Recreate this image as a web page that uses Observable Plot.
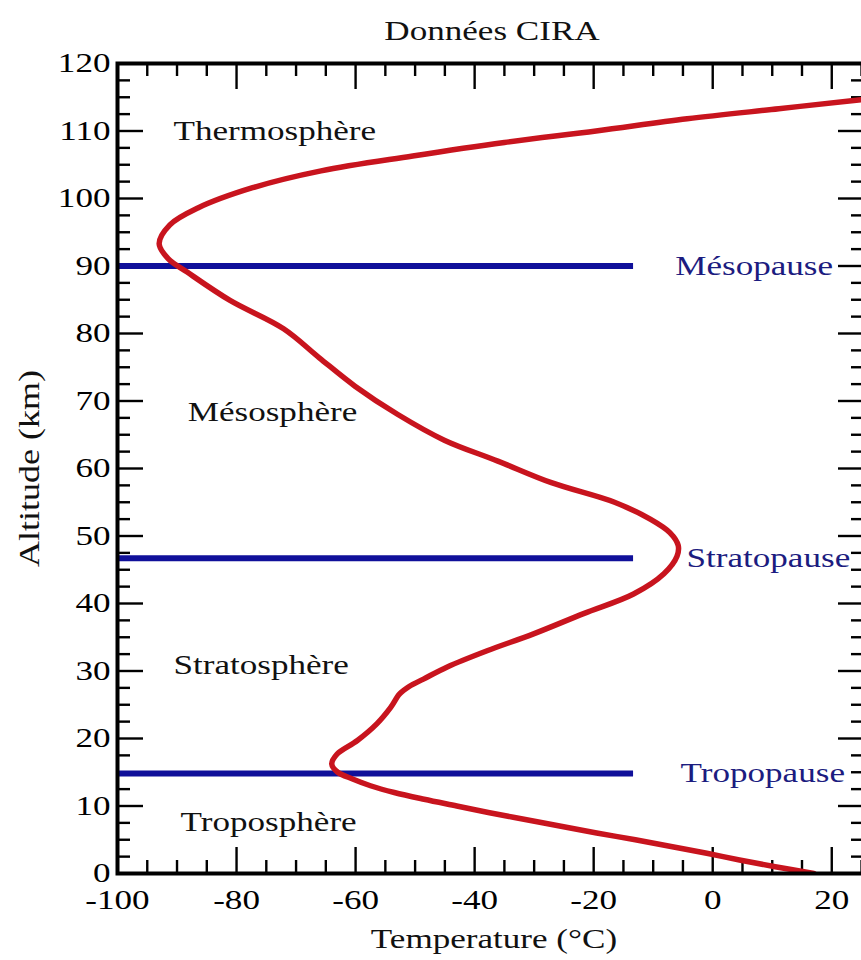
<!DOCTYPE html>
<html><head><meta charset="utf-8">
<script src="https://cdn.jsdelivr.net/npm/d3@7"></script>
<script src="https://cdn.jsdelivr.net/npm/@observablehq/plot@0.6"></script>
<style>body{margin:0;background:#fff}</style>
</head><body><div id="chart"></div>
<script>
// CIRA temperature profile (altitude km, temperature °C)
const altitude =    [0,  1,   2,   3,  4,  5,   6,    7,    8,    9,    10,  11,   12,   13,   14,   15,  16.2, 17.7, 19.7, 22.2, 24.6, 26.6, 27.7, 28.8, 30.6, 33.0, 35.5, 38.5, 41.4, 44.4, 47.0, 48.6, 50.5, 52.5, 55.0, 57.9, 61.1, 64.2, 68.0, 72.2, 76.4, 80.7, 84.9, 89.1, 91.1, 93.3, 96.1, 98.6, 101.6, 104.1, 106.3, 108.3, 110.0, 111.8, 113.3, 114.6, 115.2];
const temperature = [17, 10.5, 4.5, -1, -7, -13, -19.5,-25.5,-31.5,-37.5,-43, -48.5,-53.5,-57.5,-60.5,-63, -64, -63.1,-59.7,-56.4,-54.1,-52.6,-51.0,-48.6,-44.6,-37.9,-30.1,-21.7,-13.3,-8.2, -6.0, -5.8, -7.2, -10.5,-16.5,-27.1,-36.1,-45.1,-52.9,-60.1,-66.1,-72.1,-81.1,-88.3,-91.5,-93,  -91.2,-86.5,-77.3, -65.8, -50.4, -35.0, -19.6, -4.3,  11.1,  24.5,  31];

const pauseNames = ["Mésopause", "Stratopause", "Tropopause"];
const pauseAltitude = [90, 46.7, 14.8];
const pauseLineEnd = [-13.3, -13.3, -13.3];
const pauseLabelX = [-6.3, -4.4, -5.4];

const layerNames = ["Thermosphère", "Mésosphère", "Stratosphère", "Troposphère"];
const layerAltitude = [110, 68.3, 30.8, 7.6];
const layerX = [-90.6, -88.2, -90.6, -89.4];

const xTicks = [-100, -80, -60, -40, -20, 0, 20];
const xMinorTicks = [-95, -90, -85, -75, -70, -65, -55, -50, -45, -35, -30, -25, -15, -10, -5, 5, 10, 15, 25];
const yTicks = [0, 10, 20, 30, 40, 50, 60, 70, 80, 90, 100, 110, 120];
const yMinorTicks = [2.5, 5, 7.5, 12.5, 15, 17.5, 22.5, 25, 27.5, 32.5, 35, 37.5, 42.5, 45, 47.5, 52.5, 55, 57.5, 62.5, 65, 67.5, 72.5, 75, 77.5, 82.5, 85, 87.5, 92.5, 95, 97.5, 102.5, 105, 107.5, 112.5, 115, 117.5];

const W = 861, H = 960, mL = 117, mR = -3, mT = 63, mB = 87;
const innerW = W - mL - mR, innerH = H - mT - mB;
const font = "Liberation Serif, Times New Roman, serif";
const fs = 27;
const majorLen = 26, minorLen = 13;
const tickStyle = {stroke: "black", strokeWidth: 2.4};

const chart = Plot.plot({
  width: W, height: H,
  marginLeft: mL, marginRight: mR, marginTop: mT, marginBottom: mB,
  style: {fontFamily: font, background: "white", overflow: "hidden"},
  x: {domain: [-100, 25.5]},
  y: {domain: [0, 120]},
  marks: [
    // ticks (inward, all four sides)
    Plot.ruleX(xTicks, {x: d => d, insetTop: innerH - majorLen, ...tickStyle}),
    Plot.ruleX(xTicks, {x: d => d, insetBottom: innerH - majorLen, ...tickStyle}),
    Plot.ruleX(xMinorTicks, {x: d => d, insetTop: innerH - minorLen, ...tickStyle}),
    Plot.ruleX(xMinorTicks, {x: d => d, insetBottom: innerH - minorLen, ...tickStyle}),
    Plot.ruleY(yTicks, {y: d => d, insetRight: innerW - majorLen, ...tickStyle}),
    Plot.ruleY(yTicks, {y: d => d, insetLeft: innerW - majorLen, ...tickStyle}),
    Plot.ruleY(yMinorTicks, {y: d => d, insetRight: innerW - minorLen, ...tickStyle}),
    Plot.ruleY(yMinorTicks, {y: d => d, insetLeft: innerW - minorLen, ...tickStyle}),
    // pause lines
    Plot.ruleY(pauseNames, {y: (d, i) => pauseAltitude[i], x1: -100, x2: (d, i) => pauseLineEnd[i], stroke: "#10109a", strokeWidth: 6}),
    // temperature profile
    Plot.line(altitude, {x: (d, i) => temperature[i], y: d => d, curve: "catmull-rom", stroke: "#c8141e", strokeWidth: 5.5, clip: true}),
    // labels
    Plot.text(layerNames, {x: (d, i) => layerX[i], y: (d, i) => layerAltitude[i], text: d => d, textAnchor: "start", fontSize: fs, fill: "#111"}),
    Plot.text(pauseNames, {x: (d, i) => pauseLabelX[i], y: (d, i) => pauseAltitude[i], text: d => d, textAnchor: "start", fontSize: fs, fill: "#1c1c80"}),
    // frame
    Plot.frame({stroke: "black", strokeWidth: 4}),
    // axes tick labels
    Plot.axisX(xTicks, {tickSize: 0, tickPadding: 16, fontSize: fs, label: null, tickFormat: d => String(d).replace("−", "-")}),
    Plot.axisY(yTicks, {tickSize: 0, tickPadding: 7, fontSize: fs, label: null}),
    // titles
    Plot.text(["Données CIRA"], {frameAnchor: "top", textAnchor: "middle", lineAnchor: "middle", dx: 1, dy: -32, fontSize: fs, fill: "#111"}),
    Plot.text(["Temperature (°C)"], {frameAnchor: "bottom", textAnchor: "middle", lineAnchor: "middle", dx: 3, dy: 66, fontSize: fs, fill: "#111"}),
    Plot.text(["Altitude (km)"], {frameAnchor: "left", textAnchor: "middle", lineAnchor: "middle", dx: -88, dy: 0, rotate: -90, fontSize: 36, fill: "#111"})
  ]
});
// the reference typography is horizontally widened: stretch each text along the screen x axis
chart.querySelectorAll("text").forEach(t => {
  const tr = t.getAttribute("transform") || "";
  const s = /rotate/.test(tr) ? "scale(1,0.8)" : "scale(1.3,1)";
  t.setAttribute("transform", (tr + " " + s).trim());
});
document.getElementById("chart").appendChild(chart);
</script>
</body></html>
